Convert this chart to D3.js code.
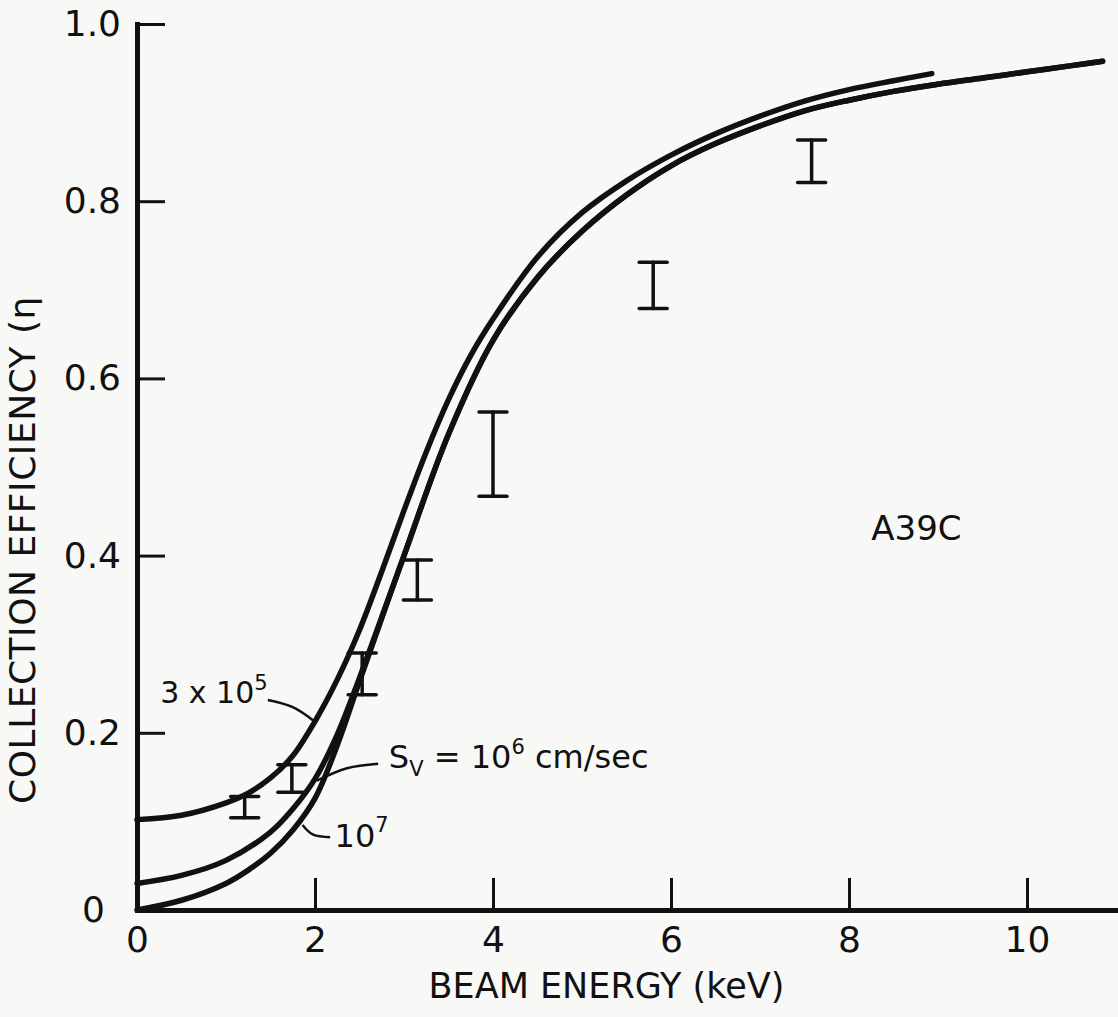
<!DOCTYPE html>
<html><head><meta charset="utf-8">
<script src="https://cdn.jsdelivr.net/npm/d3@7"></script>
<style>
html,body{margin:0;padding:0;background:#f8f8f6;}
svg{display:block;}
</style></head><body>
<svg id="chart" width="1118" height="1017"></svg>
<script>
// ---- data ----
const xTicks = [0, 2, 4, 6, 8, 10];
const xTickLabels = ["0", "2", "4", "6", "8", "10"];
const yTicks = [0, 0.2, 0.4, 0.6, 0.8, 1.0];
const yTickLabels = ["0", "0.2", "0.4", "0.6", "0.8", "1.0"];

// S_V = 3x10^5 cm/sec
const energyA = [0, 0.5, 1, 1.25, 1.5, 1.75, 2, 2.25, 2.5, 2.75, 3, 3.25, 3.5, 3.75, 4, 4.5, 5, 5.5, 6, 6.5, 7, 7.5, 8, 8.5, 8.93];
const effA    = [0.102, 0.107, 0.121, 0.132, 0.149, 0.174, 0.213, 0.260, 0.316, 0.382, 0.451, 0.517, 0.576, 0.626, 0.667, 0.737, 0.787, 0.823, 0.852, 0.876, 0.896, 0.913, 0.926, 0.936, 0.944];
// S_V = 10^6 cm/sec
const energyB = [0, 0.5, 1, 1.5, 1.75, 2, 2.25, 2.5, 3, 3.5, 4, 4.5, 5, 5.5, 6, 6.5, 7, 7.5, 8, 8.5, 9, 9.5, 10, 10.5, 10.85];
const effB    = [0.030, 0.039, 0.056, 0.088, 0.114, 0.148, 0.198, 0.262, 0.400, 0.537, 0.643, 0.714, 0.766, 0.807, 0.840, 0.865, 0.885, 0.902, 0.914, 0.924, 0.932, 0.939, 0.946, 0.953, 0.958];
// S_V = 10^7 cm/sec
const energyC = [0, 0.5, 1, 1.25, 1.5, 1.75, 2, 2.25, 2.5, 3, 3.5, 4, 4.5, 5, 5.5, 6, 6.5, 7, 7.5, 8, 8.5, 9, 9.5, 10, 10.5, 10.85];
const effC    = [0.000, 0.011, 0.030, 0.045, 0.064, 0.090, 0.126, 0.186, 0.258, 0.400, 0.537, 0.643, 0.714, 0.766, 0.807, 0.840, 0.865, 0.885, 0.902, 0.914, 0.924, 0.932, 0.939, 0.946, 0.953, 0.958];

// measured points (error bars)
const barEnergy = [1.21, 1.74, 2.53, 3.15, 4.0, 5.8, 7.58];
const barLow    = [0.104, 0.133, 0.243, 0.350, 0.467, 0.679, 0.821];
const barHigh   = [0.128, 0.164, 0.290, 0.395, 0.562, 0.731, 0.869];

// curve labels (data coordinates) and leader lines
const leaderA = [[1.47, 0.237], [1.75, 0.229], [1.98, 0.214]];
const leaderB = [[2.71, 0.165], [2.36, 0.160], [2.02, 0.146]];
const leaderC = [[2.17, 0.082], [1.98, 0.085], [1.86, 0.096]];
const labelAPos = [0.26, 0.234];
const labelBPos = [2.83, 0.160];
const labelCPos = [2.22, 0.071];
const samplePos = [8.25, 0.418];

// ---- drawing ----
const ink = "#111";
const font = "'DejaVu Sans', 'Liberation Sans', sans-serif";
const svg = d3.select("#chart");
const x = d3.scaleLinear().domain([0, 11]).range([137, 1116]);
const y = d3.scaleLinear().domain([0, 1]).range([910, 24]);

// axes
const gx = svg.append("g").attr("transform", `translate(0,${y(0)})`)
  .call(d3.axisBottom(x).tickValues(xTicks).tickFormat((d, i) => xTickLabels[i])
    .tickSizeInner(-32).tickSizeOuter(0).tickPadding(16));
const gy = svg.append("g").attr("transform", `translate(${x(0)},0)`)
  .call(d3.axisLeft(y).tickValues(yTicks).tickFormat((d, i) => yTickLabels[i])
    .tickSizeInner(-28).tickSizeOuter(0).tickPadding(16));
[gx, gy].forEach(g => {
  g.attr("font-family", font).attr("font-size", 36);
  g.select(".domain").attr("stroke", ink).attr("stroke-width", 5).attr("stroke-linecap", "square");
  g.selectAll(".tick line").attr("stroke", ink).attr("stroke-width", 3);
  g.selectAll(".tick text").attr("fill", ink);
});
gy.selectAll(".tick text").filter(d => d === 0).attr("dx", -16);

// curves
const line = d3.line().x(d => x(d[0])).y(d => y(d[1])).curve(d3.curveCatmullRom.alpha(0.5));
const series = [
  d3.zip(energyC, effC),
  d3.zip(energyB, effB),
  d3.zip(energyA, effA)
];
svg.append("g").selectAll("path").data(series).join("path")
  .attr("d", line).attr("fill", "none").attr("stroke", ink)
  .attr("stroke-width", 5.5).attr("stroke-linecap", "round").attr("stroke-linejoin", "round");

// error bars
const bars = svg.append("g").attr("stroke", ink).attr("stroke-width", 3.5).attr("stroke-linecap", "round");
const bw = 14;
barEnergy.forEach((e, i) => {
  const cx = x(e), y1 = y(barLow[i]), y2 = y(barHigh[i]);
  bars.append("line").attr("x1", cx).attr("x2", cx).attr("y1", y1).attr("y2", y2);
  bars.append("line").attr("x1", cx - bw).attr("x2", cx + bw).attr("y1", y1).attr("y2", y1);
  bars.append("line").attr("x1", cx - bw).attr("x2", cx + bw).attr("y1", y2).attr("y2", y2);
});

// leader lines
const leader = d3.line().x(d => x(d[0])).y(d => y(d[1])).curve(d3.curveNatural);
svg.append("g").selectAll("path").data([leaderA, leaderB, leaderC]).join("path")
  .attr("d", leader).attr("fill", "none").attr("stroke", ink).attr("stroke-width", 2.5);

// labels
const T = svg.append("g").attr("font-family", font).attr("fill", ink);
const tA = T.append("text").attr("x", x(labelAPos[0])).attr("y", y(labelAPos[1])).attr("font-size", 30);
tA.append("tspan").text("3 x 10");
tA.append("tspan").attr("font-size", 21).attr("dy", -13).text("5");

const tB = T.append("text").attr("x", x(labelBPos[0])).attr("y", y(labelBPos[1])).attr("font-size", 32);
tB.append("tspan").text("S");
tB.append("tspan").attr("font-size", 21).attr("dy", 8).text("V");
tB.append("tspan").attr("dy", -8).text(" = 10");
tB.append("tspan").attr("font-size", 21).attr("dy", -14).text("6");
tB.append("tspan").attr("dy", 14).text(" cm/sec");

const tC = T.append("text").attr("x", x(labelCPos[0])).attr("y", y(labelCPos[1])).attr("font-size", 32);
tC.append("tspan").text("10");
tC.append("tspan").attr("font-size", 21).attr("dy", -15).text("7");

T.append("text").attr("x", x(samplePos[0])).attr("y", y(samplePos[1])).attr("font-size", 34).text("A39C");

// axis titles
T.append("text").attr("x", (x(0) + x(11)) / 2 - 20).attr("y", 998).attr("text-anchor", "middle")
  .attr("font-size", 35).text("BEAM ENERGY (keV)");
T.append("text").attr("transform", "translate(35,550) rotate(-90)").attr("text-anchor", "middle")
  .attr("font-size", 36).attr("letter-spacing", 0.5).text("COLLECTION EFFICIENCY (η");
</script>
</body></html>
